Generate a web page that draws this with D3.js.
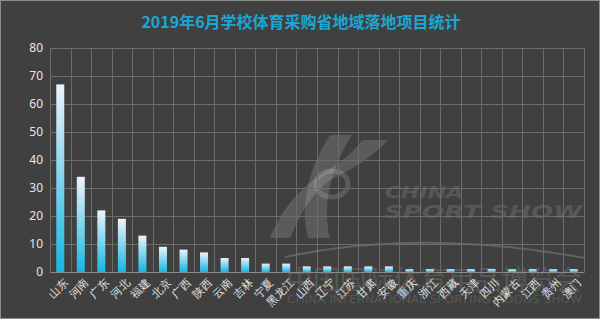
<!DOCTYPE html>
<html>
<head>
<meta charset="utf-8">
<script src="https://cdn.jsdelivr.net/npm/d3@7"></script>
<style>
  html, body { margin: 0; padding: 0; background: #404040; }
  svg { display: block; font-family: "Noto Sans CJK SC", "Noto Sans", sans-serif; }
</style>
</head>
<body>
<svg id="chart"></svg>
<script>
const provinces = ['山东', '河南', '广东', '河北', '福建', '北京', '广西', '陕西', '云南', '吉林',
  '宁夏', '黑龙江', '山西', '辽宁', '江苏', '甘肃', '安徽', '重庆', '浙江', '西藏',
  '天津', '四川', '内蒙古', '江西', '贵州', '澳门'];
const projects = [67, 34, 22, 19, 13, 9, 8, 7, 5, 5,
  3, 3, 2, 2, 2, 2, 2, 1, 1, 1,
  1, 1, 1, 1, 1, 1];
const yTicks = [0, 10, 20, 30, 40, 50, 60, 70, 80];

const W = 600, H = 319;
const margin = {top: 48, bottom: 47, left: 50, right: 16};
const width = W - margin.left - margin.right;
const height = H - margin.top - margin.bottom;

const root = d3.select('#chart')
  .attr('width', W)
  .attr('height', H);

// background + frame
root.append('rect')
  .attr('x', 0.5).attr('y', 0.5)
  .attr('width', W - 1).attr('height', H - 1)
  .attr('fill', '#404040')
  .attr('stroke', '#8c8c8c');

// title
root.append('text')
  .attr('x', W / 2 + 1)
  .attr('y', 28)
  .attr('text-anchor', 'middle')
  .style('font-size', '16px')
  .style('font-weight', 'bold')
  .style('fill', '#1aa7d3')
  .text('2019年6月学校体育采购省地域落地项目统计');

// gradient for bars
const grad = root.append('defs').append('linearGradient')
  .attr('id', 'barGrad')
  .attr('x1', 0).attr('y1', 0).attr('x2', 0).attr('y2', 1);
grad.append('stop').attr('offset', '0%').attr('stop-color', '#eef2fa');
grad.append('stop').attr('offset', '100%').attr('stop-color', '#14b7e2');

// watermark
const wm = root.append('g')
  .style('fill', '#ffffff')
  .style('fill-opacity', 0.14);

wm.append('path')
  .attr('d', 'M330,135 L352,135 C330,170 322,205 330,238 L308,238 C300,205 308,170 330,135 Z');
wm.append('path')
  .attr('d', 'M362,140 L388,140 C370,160 350,170 330,180 C310,195 300,215 290,238 L270,238 C282,208 300,188 325,172 C345,160 355,150 362,140 Z');
wm.append('ellipse')
  .attr('cx', 332).attr('cy', 184)
  .attr('rx', 16).attr('ry', 13)
  .style('fill', 'none')
  .style('stroke', '#ffffff')
  .style('stroke-opacity', 0.14)
  .style('stroke-width', 5);

wm.append('text')
  .attr('x', 385).attr('y', 198)
  .style('font-family', '"DejaVu Sans", sans-serif')
  .style('font-size', '15px')
  .style('font-weight', 'bold')
  .style('font-style', 'italic')
  .attr('textLength', 78)
  .attr('lengthAdjust', 'spacingAndGlyphs')
  .text('CHINA');
wm.append('text')
  .attr('x', 384).attr('y', 218)
  .style('font-family', '"DejaVu Sans", sans-serif')
  .style('font-size', '17px')
  .style('font-weight', 'bold')
  .style('font-style', 'italic')
  .attr('textLength', 198)
  .attr('lengthAdjust', 'spacingAndGlyphs')
  .text('SPORT SHOW');
wm.append('path')
  .attr('d', 'M285,257 Q420,228 585,258')
  .style('fill', 'none')
  .style('stroke', '#ffffff')
  .style('stroke-opacity', 0.18)
  .style('stroke-width', 2);
wm.append('text')
  .attr('x', 286).attr('y', 290)
  .style('font-size', '27px')
  .attr('textLength', 296)
  .attr('lengthAdjust', 'spacingAndGlyphs')
  .text('中国国际体育用品博览会');
wm.append('text')
  .attr('x', 287).attr('y', 303)
  .style('font-family', '"DejaVu Sans", sans-serif')
  .style('font-size', '10px')
  .attr('textLength', 295)
  .attr('lengthAdjust', 'spacingAndGlyphs')
  .text('CHINA INTERNATIONAL SPORTING GOODS SHOW');

const svg = root.append('g')
  .attr('transform', `translate(${margin.left}, ${margin.top})`);

const x = d3.scaleBand()
  .domain(provinces)
  .range([0, width]);

const y = d3.scaleLinear()
  .domain([0, 80])
  .range([height, 0]);

// grid lines
svg.append('g')
  .selectAll('line')
  .data(yTicks)
  .enter()
  .append('line')
  .attr('x1', 0).attr('x2', width)
  .attr('y1', d => Math.round(y(d)) + 0.5)
  .attr('y2', d => Math.round(y(d)) + 0.5)
  .attr('stroke', '#6c6c6c');

svg.append('g')
  .selectAll('line')
  .data(provinces.concat(['end']))
  .enter()
  .append('line')
  .attr('x1', (d, i) => Math.round(i * x.bandwidth()) + 0.5)
  .attr('x2', (d, i) => Math.round(i * x.bandwidth()) + 0.5)
  .attr('y1', 0).attr('y2', height)
  .attr('stroke', '#6c6c6c');

// bars
svg.selectAll('.bar')
  .data(provinces)
  .enter()
  .append('rect')
  .attr('class', 'bar')
  .attr('x', d => x(d) + x.bandwidth() / 2 - 4)
  .attr('y', (d, i) => y(projects[i]))
  .attr('width', 8)
  .attr('height', (d, i) => height - y(projects[i]))
  .attr('fill', 'url(#barGrad)');

// y axis
const yAxis = svg.append('g')
  .call(d3.axisLeft(y).tickValues(yTicks).tickSize(0).tickPadding(7));
yAxis.select('.domain').remove();
yAxis.selectAll('text')
  .style('font-size', '12px')
  .style('font-family', '"Noto Sans", sans-serif')
  .style('fill', '#e6e6e6');

// x axis
const xAxis = svg.append('g')
  .attr('transform', `translate(0, ${height})`)
  .call(d3.axisBottom(x).tickSize(0).tickPadding(0));
xAxis.select('.domain')
  .attr('stroke', '#8a8a8a');
xAxis.selectAll('text')
  .attr('transform', 'translate(3, 6) rotate(-45)')
  .attr('text-anchor', 'end')
  .attr('dy', '0.7em')
  .attr('dx', '0')
  .attr('y', 0)
  .style('font-size', '11px')
  .style('fill', '#e6e6e6');
</script>
</body>
</html>
